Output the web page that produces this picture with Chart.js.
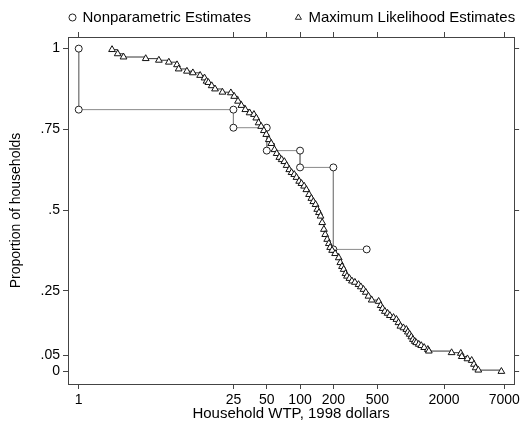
<!DOCTYPE html>
<html>
<head>
<meta charset="utf-8">
<script src="https://cdn.jsdelivr.net/npm/chart.js"></script>
<style>
  html, body { margin: 0; padding: 0; background: #fff; }
  #wrap { width: 523px; height: 423px; }
</style>
</head>
<body>
<div id="wrap"><canvas id="wtp"></canvas></div>
<script>
// nonparametric estimates (circles)
var npWtp   = [1, 1, 25, 25, 50, 50, 100, 100, 200, 200, 400]
var npShare = [1, .811, .811, .755, .755, .684, .684, .632, .632, .378, .378]

// maximum likelihood estimates (triangles)
var mlWtp = [2.0, 2.25, 2.54, 4.03, 5.3, 6.52, 7.73, 8.0, 9.5, 10.75, 12.5, 13.7, 14.3, 14.85, 15.9, 17.05, 19.9, 23.7,
  25.4, 27.5, 29.5, 32, 35, 38.3, 40.2, 42.2, 44.5, 47.1, 49.5, 52.2, 54.9, 58.7, 61.5, 65, 68.2, 72.1, 75.6, 79.9,
  83.8, 88.6, 92.9, 98.2, 103, 108.8, 114, 120.6, 126.5, 131.8, 138.1, 143, 148.2, 153.2, 158.6, 164.3, 168.8, 175.9,
  182.1, 187.1, 194.9, 207.4, 223.7, 231.2, 239.4, 248, 257.4, 265.5, 279.5, 294.2, 313, 337.8, 354.2, 374.5, 392.6,
  415, 444, 513, 535, 557, 584, 618, 648, 699, 743, 775, 807, 859, 913, 942, 978, 1013, 1048, 1088, 1122, 1182, 1244,
  1323, 1428, 1458, 2341, 2836, 2894, 3254, 3556, 3729, 3863, 4083, 6596]
var mlShare = [.997, .984, .974, .969, .964, .958, .950, .937, .930, .925, .917, .909, .899, .895, .885, .875, .865, .863,
  .852, .837, .824, .811, .801, .796, .785, .770, .759, .746, .734, .718, .706, .687, .675, .663, .656, .650, .638, .625,
  .616, .610, .601, .589, .582, .574, .563, .548, .536, .526, .517, .502, .492, .481, .461, .440, .424, .409,
  .396, .384, .375, .365, .352, .337, .325, .316, .303, .295, .288, .280, .276, .269, .262, .254, .245,
  .233, .221, .217, .204, .195, .186, .180, .173, .167, .161, .151, .140, .135, .130, .122, .115, .107, .099, .093, .089,
  .084, .080, .074, .068, .063, .058, .056, .046, .039, .034, .022, .011, .004, 0]

var xTicks = [1, 25, 50, 100, 200, 500, 2000, 7000]
var yTicks = [0, .05, .25, .5, .75, 1]
var yLabels = ["0", ".05", ".25", ".5", ".75", "1"]

Chart.defaults.font.family = "'Liberation Sans', Arial, sans-serif"
Chart.defaults.color = "#000"

var frame = "#444"

function pts(xs, ys) {
  return xs.map((v, i) => ({x: v, y: ys[i]}))
}

// move the legend row to where the original sits (legend clips to its own box)
var shiftLegend = {
  id: "shiftLegend",
  afterLayout(chart) {
    var lg = chart.legend
    lg.left += 25; lg.right += 150
    lg.top -= 35
  }
}

function xAxis(pos) {
  return {
    type: "logarithmic", position: pos, min: 0.8, max: 8600,
    afterBuildTicks: s => { s.ticks = xTicks.map(v => ({value: v})) },
    ticks: {display: pos == "bottom", callback: v => String(v), font: {size: 14}, padding: 3, maxRotation: 0, autoSkip: false},
    grid: {drawOnChartArea: false, tickLength: 5, color: frame},
    border: {color: frame}
  }
}
function yAxis(pos) {
  return {
    type: "linear", position: pos, min: -0.039, max: 1.036,
    afterBuildTicks: s => { s.ticks = yTicks.map(v => ({value: v})) },
    ticks: {display: pos == "left", callback: (v) => yLabels[yTicks.indexOf(v)], font: {size: 14}, padding: 3},
    grid: {drawOnChartArea: false, tickLength: 5, color: frame},
    border: {color: frame}
  }
}

var sx = xAxis("bottom")
sx.title = {display: true, text: "Household WTP, 1998 dollars", font: {size: 15}, padding: 0}
sx.afterFit = s => { s.height = 39 }
var sy = yAxis("left")
sy.title = {display: true, text: "Proportion of households", font: {size: 14}, padding: {top: 8, bottom: 0}}
sy.afterFit = s => { s.width = 68 }

new Chart("wtp", {
  type: "scatter",
  data: {
    datasets: [{
      label: "Nonparametric Estimates",
      data: pts(npWtp, npShare),
      showLine: true,
      borderColor: "#8a8a8a",
      borderWidth: 1,
      pointStyle: "circle",
      pointRadius: 3.5,
      pointBackgroundColor: "#fff",
      pointBorderColor: "#222",
      pointBorderWidth: 1,
      order: 1
    }, {
      label: "Maximum Likelihood Estimates",
      data: pts(mlWtp, mlShare),
      showLine: true,
      stepped: true,
      borderColor: "#333",
      borderWidth: 1,
      pointStyle: "triangle",
      pointRadius: 3.9,
      pointBackgroundColor: "#fff",
      pointBorderColor: "#111",
      pointBorderWidth: 1,
      order: 0
    }]
  },
  options: {
    responsive: true,
    maintainAspectRatio: false,
    animation: false,
    events: [],
    layout: {padding: 0},
    scales: {x: sx, x2: xAxis("top"), y: sy, y2: yAxis("right")},
    plugins: {
      tooltip: {enabled: false},
      legend: {
        position: "top", align: "start", maxHeight: 32,
        labels: {
          usePointStyle: true, boxWidth: 5, boxHeight: 5, padding: 45,
          font: {size: 15}, color: "#000",
          generateLabels: () => [
            {text: "Nonparametric Estimates", pointStyle: "circle", fillStyle: "#fff", strokeStyle: "#222", lineWidth: 1, datasetIndex: 0},
            {text: "Maximum Likelihood Estimates", pointStyle: "triangle", fillStyle: "#fff", strokeStyle: "#222", lineWidth: 1, datasetIndex: 1}
          ]
        }
      }
    }
  },
  plugins: [shiftLegend]
});
</script>
</body>
</html>
